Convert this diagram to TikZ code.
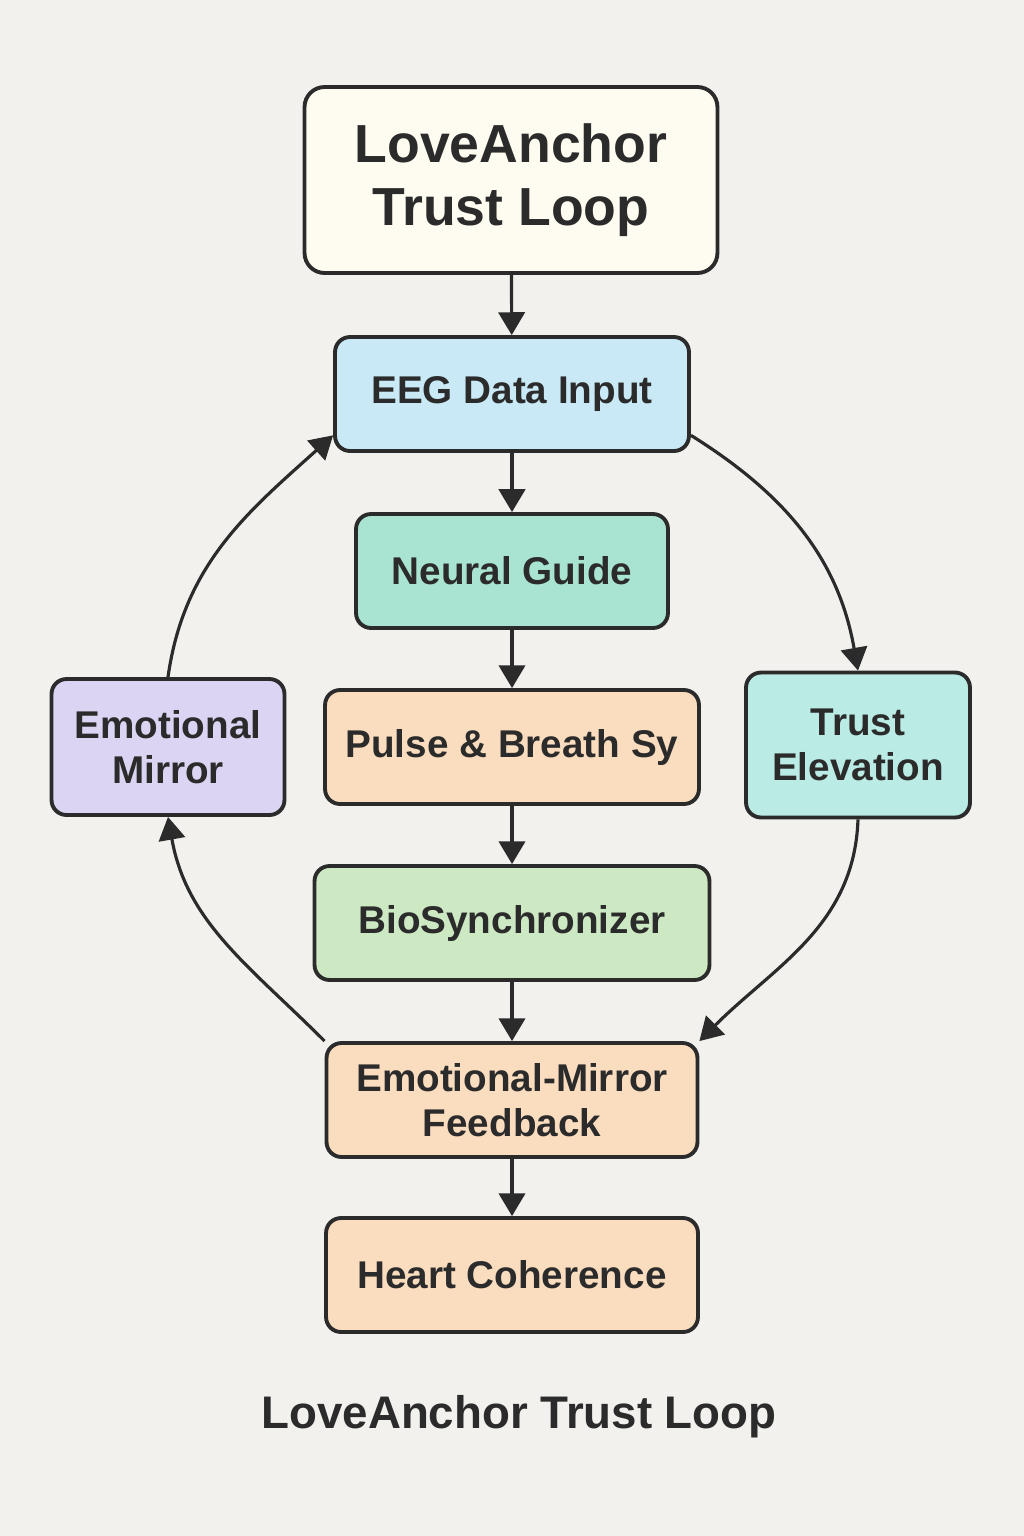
\documentclass[tikz,border=0pt]{standalone}
\usepackage{fontspec}
\setmainfont{Liberation Sans}
\usetikzlibrary{arrows.meta}

\definecolor{paper}{HTML}{F2F1EE}
\definecolor{ink}{HTML}{2B2B2B}
\definecolor{cream}{HTML}{FEFBF0}
\definecolor{skyblue}{HTML}{C8E9F5}
\definecolor{mint}{HTML}{A9E3D1}
\definecolor{peach}{HTML}{FADDBF}
\definecolor{leaf}{HTML}{CDE9C4}
\definecolor{lavender}{HTML}{DCD4F3}
\definecolor{aqua}{HTML}{BAEBE4}

\begin{document}
\begin{tikzpicture}[x=0.02cm, y=-0.02cm]
    \tikzstyle{loop box}=[
        draw = ink,
        line width = 2.2pt,
        rounded corners = 0.3cm,
        minimum height = 2.28cm,
        align = center,
        text = ink,
        font = \fontsize{22}{25.5}\selectfont\bfseries
    ]
    \tikzstyle{title box}=[
        loop box,
        fill = cream,
        rounded corners = 0.4cm,
        font = \fontsize{30.5}{35.7}\selectfont\bfseries
    ]
    \tikzstyle{flow}=[
        color = ink,
        line width = 1.8pt,
        -{Triangle[length=13pt, width=15pt]}
    ]

    \fill[paper] (0,0) rectangle (1024,1536);
    \useasboundingbox (0,0) rectangle (1024,1536);

    \node[title box, minimum width=8.26cm, minimum height=3.72cm] (anchor) at (511,180) {LoveAnchor\\Trust Loop};
    \node[loop box, fill=skyblue, minimum width=7.08cm] (eeg)    at (512,394)  {EEG Data Input};
    \node[loop box, fill=mint,    minimum width=6.24cm] (neural) at (512,571)  {Neural Guide};
    \node[loop box, fill=peach,   minimum width=7.48cm] (pulse)  at (512,747)  {Pulse \& Breath Sy};
    \node[loop box, fill=leaf,    minimum width=7.90cm] (bio)    at (512,923)  {BioSynchronizer};
    \node[loop box, fill=peach,   minimum width=7.42cm] (mirfb)  at (512,1100) {Emotional-Mirror\\Feedback};
    \node[loop box, fill=peach,   minimum width=7.44cm] (heart)  at (512,1275) {Heart Coherence};
    \node[loop box, fill=lavender, minimum width=4.66cm, minimum height=2.72cm] (emo)   at (168,747) {Emotional\\Mirror};
    \node[loop box, fill=aqua,     minimum width=4.48cm, minimum height=2.90cm] (trust) at (858,745) {Trust\\Elevation};

    \node[text=ink, font=\fontsize{26}{30}\selectfont\bfseries] (caption) at (519,1417) {LoveAnchor Trust Loop};

    % main column
    \path[flow] (anchor) edge (eeg);
    \path[flow] (eeg)    edge (neural);
    \path[flow] (neural) edge (pulse);
    \path[flow] (pulse)  edge (bio);
    \path[flow] (bio)    edge (mirfb);
    \path[flow] (mirfb)  edge (heart);

    % outer loop
    \path[flow] (eeg.-13)          edge [out=-32, in=100] (trust.north);
    \path[flow] (trust.south)      edge [out=-92, in=45]  (mirfb.north east);
    \path[flow] (mirfb.north west) edge [out=135, in=-80] (emo.south);
    \path[flow] (emo.north)        edge [out=82,  in=222] (eeg.193);

\end{tikzpicture}
\end{document}
